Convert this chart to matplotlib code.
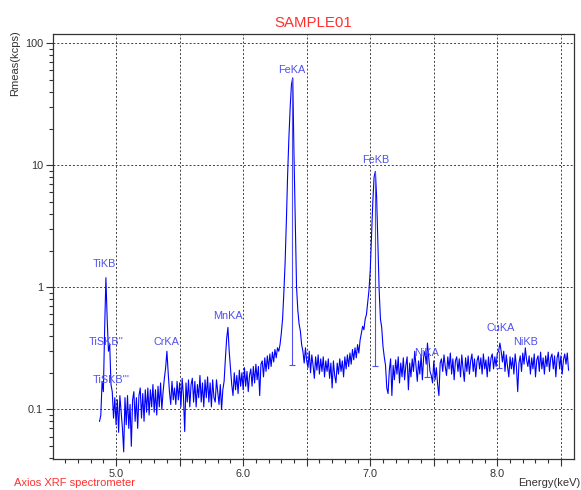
import matplotlib
matplotlib.use("Agg")
import matplotlib.pyplot as plt
import numpy as np
from matplotlib.ticker import FixedLocator, FixedFormatter, LogLocator, NullFormatter

plt.rcParams["font.family"] = ["Liberation Sans", "DejaVu Sans"]

# Спектр: канали по 0.01 кеВ, починаючи з 4.87 кеВ
energy_start = 4.87
energy_step = 0.01
counts = [
    0.080, 0.090, 0.170, 0.140, 0.450, 1.200, 0.550, 0.300, 0.340, 0.160,
    0.140, 0.085, 0.125, 0.075, 0.120, 0.065, 0.130, 0.095, 0.070, 0.045,
    0.125, 0.075, 0.130, 0.070, 0.110, 0.050, 0.120, 0.140, 0.080, 0.125,
    0.070, 0.130, 0.150, 0.085, 0.135, 0.080, 0.145, 0.095, 0.150, 0.090,
    0.145, 0.105, 0.160, 0.095, 0.145, 0.090, 0.155, 0.105, 0.165, 0.100,
    0.140, 0.180, 0.220, 0.300, 0.200, 0.140, 0.110, 0.170, 0.120, 0.150,
    0.110, 0.170, 0.120, 0.165, 0.105, 0.180, 0.130, 0.066, 0.165, 0.115,
    0.175, 0.105, 0.160, 0.180, 0.115, 0.170, 0.105, 0.160, 0.125, 0.190,
    0.115, 0.165, 0.105, 0.175, 0.125, 0.185, 0.115, 0.165, 0.105, 0.175,
    0.125, 0.115, 0.175, 0.140, 0.110, 0.160, 0.100, 0.145, 0.170, 0.260,
    0.380, 0.470, 0.300, 0.220, 0.160, 0.130, 0.200, 0.145, 0.190, 0.135,
    0.210, 0.155, 0.200, 0.145, 0.220, 0.155, 0.205, 0.140, 0.190, 0.215,
    0.155, 0.225, 0.165, 0.235, 0.175, 0.225, 0.130, 0.235, 0.250, 0.185,
    0.265, 0.205, 0.275, 0.215, 0.285, 0.225, 0.295, 0.245, 0.310, 0.265,
    0.320, 0.300, 0.340, 0.420, 0.550, 0.900, 1.600, 3.500, 8.500, 17.00,
    30.00, 46.00, 52.00, 12.00, 3.500, 1.000, 0.650, 0.500, 0.440, 0.340,
    0.300, 0.240, 0.320, 0.250, 0.220, 0.300, 0.200, 0.280, 0.230, 0.180,
    0.270, 0.210, 0.280, 0.195, 0.260, 0.205, 0.270, 0.185, 0.250, 0.205,
    0.260, 0.180, 0.240, 0.150, 0.250, 0.190, 0.165, 0.240, 0.195, 0.260,
    0.205, 0.250, 0.185, 0.270, 0.215, 0.280, 0.225, 0.290, 0.235, 0.310,
    0.255, 0.320, 0.265, 0.340, 0.290, 0.370, 0.420, 0.480, 0.450, 0.550,
    0.600, 0.750, 0.950, 1.400, 2.600, 5.000, 8.000, 8.900, 5.500, 2.200,
    0.950, 0.550, 0.470, 0.330, 0.270, 0.230, 0.150, 0.135, 0.210, 0.260,
    0.130, 0.230, 0.175, 0.255, 0.195, 0.270, 0.165, 0.240, 0.185, 0.265,
    0.175, 0.230, 0.270, 0.145, 0.240, 0.185, 0.260, 0.205, 0.300, 0.225,
    0.170, 0.250, 0.195, 0.280, 0.175, 0.270, 0.300, 0.235, 0.350, 0.270,
    0.205, 0.190, 0.165, 0.250, 0.175, 0.220, 0.160, 0.130, 0.240, 0.260,
    0.205, 0.280, 0.225, 0.190, 0.270, 0.215, 0.290, 0.195, 0.260, 0.175,
    0.250, 0.270, 0.205, 0.260, 0.185, 0.280, 0.215, 0.170, 0.265, 0.205,
    0.275, 0.195, 0.250, 0.285, 0.205, 0.260, 0.185, 0.250, 0.275, 0.215,
    0.265, 0.195, 0.285, 0.215, 0.255, 0.185, 0.270, 0.205, 0.265, 0.285,
    0.215, 0.270, 0.225, 0.290, 0.300, 0.350, 0.300, 0.245, 0.300, 0.205,
    0.280, 0.225, 0.185, 0.270, 0.215, 0.265, 0.195, 0.285, 0.225, 0.140,
    0.240, 0.275, 0.205, 0.290, 0.235, 0.320, 0.255, 0.225, 0.275, 0.195,
    0.265, 0.215, 0.285, 0.185, 0.255, 0.275, 0.205, 0.295, 0.215, 0.265,
    0.195, 0.275, 0.225, 0.295, 0.205, 0.265, 0.285, 0.215, 0.275, 0.185,
    0.265, 0.295, 0.215, 0.275, 0.195, 0.255, 0.285, 0.235, 0.290, 0.210,
]
energy = energy_start + energy_step * np.arange(len(counts))

# Підписи ліній
line_names = ["TiKB", "TiSKB''", "TiSKB'''", "CrKA", "MnKA",
              "FeKA", "FeKB", "NiKA", "CuKA", "NiKB"]
line_energy = [4.91, 4.92, 4.96, 5.40, 5.88, 6.385, 7.04, 7.44, 8.03, 8.22]
label_level = [1.55, 0.36, 0.174, 0.358, 0.58, 60.0, 11.0, 0.29, 0.465, 0.356]

# Маркери ліній (вертикальні риски)
marker_energy = [6.385, 7.04, 7.445, 8.015]
marker_top = [52.0, 8.9, 0.30, 0.30]
marker_bottom = [0.23, 0.226, 0.185, 0.218]

blue = "#0000ff"
label_blue = "#5050f0"
red = "#ff3030"
dark = "#333333"

fig = plt.figure(figsize=(5.81, 4.90), dpi=100)
ax = fig.add_axes([0.0904, 0.0624, 0.8969, 0.8692])

ax.plot(energy, counts, color=blue, linewidth=0.8)
ax.vlines(marker_energy, marker_bottom, marker_top, color=label_blue, linewidth=0.8)
ax.plot(marker_energy, marker_bottom, linestyle="none", marker="_",
        markersize=5, color=label_blue, markeredgewidth=0.8)

for name, e, lv in zip(line_names, line_energy, label_level):
    ax.text(e, lv, name, color=label_blue, fontsize=7.8,
            ha="center", va="center")

ax.set_yscale("log")
ax.set_xlim(4.5, 8.6)
ax.set_ylim(0.039, 120)

xt = [5.0, 5.5, 6.0, 6.5, 7.0, 7.5, 8.0, 8.5]
ax.xaxis.set_major_locator(FixedLocator(xt))
ax.xaxis.set_major_formatter(FixedFormatter(
    [f"{v:.1f}" if v == int(v) else "" for v in xt]))
ax.xaxis.set_minor_locator(FixedLocator(np.round(np.arange(4.6, 8.6, 0.1), 1)))

yt = [0.1, 1, 10, 100]
ax.yaxis.set_major_locator(FixedLocator(yt))
ax.yaxis.set_major_formatter(FixedFormatter(["0.1", "1", "10", "100"]))
ax.yaxis.set_minor_locator(LogLocator(base=10, subs=np.arange(2, 10)))
ax.yaxis.set_minor_formatter(NullFormatter())

ax.tick_params(which="major", direction="out", length=5, width=0.8,
               color=dark, labelsize=7.8, labelcolor=dark, pad=2)
ax.tick_params(which="minor", direction="out", length=3, width=0.8, color=dark)

ax.grid(True, which="major", color="#404040", linestyle=(0, (2, 2)), linewidth=0.7)
for s in ax.spines.values():
    s.set_color(dark)
    s.set_linewidth(0.9)

fig.text(313 / 581, 1 - 23 / 490, "SAMPLE01", color=red, fontsize=10.8,
         ha="center", va="center")
fig.text(15 / 581, 1 - 30 / 490, "Rmeas(kcps)", color=dark, fontsize=8,
         rotation=90, ha="center", va="top")
fig.text(1 - 1 / 581, 1 - 483 / 490, "Energy(keV)", color=dark, fontsize=8,
         ha="right", va="center")
fig.text(14 / 581, 1 - 483 / 490, "Axios XRF spectrometer", color=red,
         fontsize=8, ha="left", va="center")

fig.savefig("out.png", dpi=100)
